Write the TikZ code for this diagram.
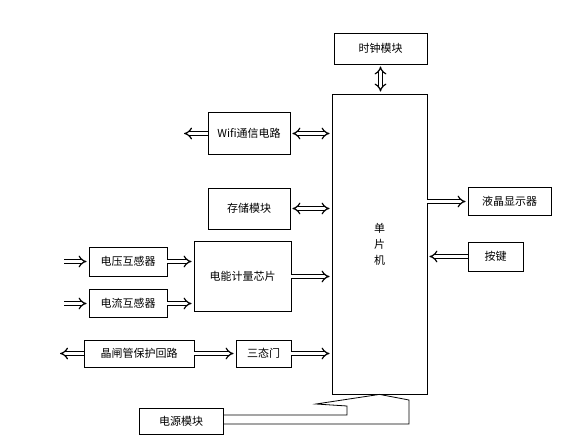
\documentclass[tikz,border=0pt]{standalone}
\usepackage{fontspec}
\setmainfont{Noto Sans CJK SC}
\usetikzlibrary{arrows.meta,positioning}

\begin{document}
\begin{tikzpicture}[x=1pt,y=-1pt,font=\fontsize{11}{16}\selectfont,
  blk/.style={draw,line width=0.8pt,inner sep=0pt},
  dbl/.style={draw,double,double distance=2.8pt,line width=1.2pt,shorten >=2pt},
  >={Implies}]
 \useasboundingbox (0,0) rectangle (568,447);
 \node[blk,minimum width=95pt,minimum height=300pt,align=center] (mcu) at (379.5,244) {单\\片\\机};
 \node[blk,minimum width=93pt,minimum height=31pt] (clock) at (380.5,48.5) {时钟模块};
 \node[blk,minimum width=82pt,minimum height=42pt] (wifi) at (249,133.5) {Wifi通信电路};
 \node[blk,minimum width=82pt,minimum height=41pt] (store) at (249,208.5) {存储模块};
 \node[blk,minimum width=97pt,minimum height=70pt] (meter) at (242.5,276.5) {电能计量芯片};
 \node[blk,minimum width=78pt,minimum height=29pt] (pt) at (128,261.5) {电压互感器};
 \node[blk,minimum width=78pt,minimum height=28pt] (ct) at (128,303.5) {电流互感器};
 \node[blk,minimum width=110pt,minimum height=27pt] (scr) at (139,353.5) {晶闸管保护回路};
 \node[blk,minimum width=55pt,minimum height=27pt] (tri) at (263.5,353.5) {三态门};
 \node[blk,minimum width=83pt,minimum height=28pt] (lcd) at (509.5,201.5) {液晶显示器};
 \node[blk,minimum width=55pt,minimum height=29pt] (key) at (495.5,256.5) {按键};
 \node[blk,minimum width=84pt,minimum height=26pt] (power) at (181,421) {电源模块};
 \coordinate (wifi_out) at (182,133.5);
 \coordinate (pt_in) at (64,261.5);
 \coordinate (ct_in) at (64,303.5);
 \coordinate (scr_out) at (58,353.5);
 \draw[dbl,<->,shorten <=2pt] (clock.south) -- (clock.south |- mcu.north);
 \draw[dbl,->] (wifi.west) -- (wifi_out);
 \draw[dbl,<->,shorten <=2pt] (wifi.east) -- (wifi.east -| mcu.west);
 \draw[dbl,<->,shorten <=2pt] (store.east) -- (store.east -| mcu.west);
 \draw[dbl,->] (pt_in) -- (pt.west);
 \draw[dbl,->] (ct_in) -- (ct.west);
 \draw[dbl,->] (pt.east) -- (pt.east -| meter.west);
 \draw[dbl,->] (ct.east) -- (ct.east -| meter.west);
 \draw[dbl,->] (meter.east) -- (meter.east -| mcu.west);
 \draw[dbl,->] (scr.west) -- (scr_out);
 \draw[dbl,->] (scr.east) -- (tri.west);
 \draw[dbl,->] (tri.east) -- (tri.east -| mcu.west);
 \draw[dbl,->] (mcu.east |- lcd.west) -- (lcd.west);
 \draw[dbl,->] (key.west) -- (key.west -| mcu.east);
 % power supply arrow
 \draw[line width=0.8pt] ([yshift=6pt]power.east) -| (347,406) -- (316,404) -- (mcu.south)
   -- (409,400) |- ([yshift=-3pt]power.east);
\end{tikzpicture}
\end{document}
